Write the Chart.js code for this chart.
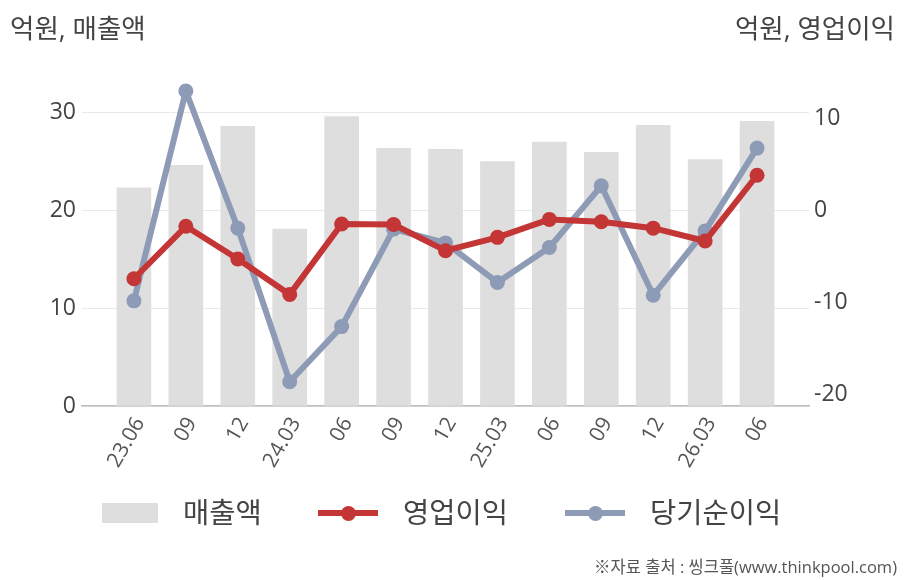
<!DOCTYPE html>
<html>
<head>
<meta charset="utf-8">
<script src="https://cdn.jsdelivr.net/npm/chart.js@4/dist/chart.umd.min.js"></script>
<style>
    body { margin: 0; background: #fff; }
    #wrap { position: relative; width: 908px; height: 580px; font-family: 'Open Sans', 'Noto Sans CJK KR', sans-serif; color: #444; }
    #chart { position: absolute; left: 0; top: 0; }
    .txt { position: absolute; white-space: nowrap; }
    .unit { font-size: 26.5px; top: 7px; }
    .leg { font-size: 28.5px; top: 490px; color: #444; }
    .box { position: absolute; width: 56px; height: 20px; top: 503px; background: #dedede; }
    .ln { position: absolute; width: 60px; height: 6px; top: 510px; }
    .dot { position: absolute; width: 15px; height: 15px; border-radius: 50%; top: -4.5px; left: 22.5px; }
    #src { font-size: 16.5px; right: 11px; top: 554px; color: #555; }
</style>
</head>
<body>
<div id="wrap">
    <canvas id="chart" width="908" height="580"></canvas>
    <div class="txt unit" style="left:10px;">억원, 매출액</div>
    <div class="txt unit" style="right:13px;">억원, 영업이익</div>

    <div class="box" style="left:102px;"></div>
    <div class="txt leg" style="left:183px;">매출액</div>
    <div class="ln" style="left:318px; background:#c43535;"><div class="dot" style="background:#c43535;"></div></div>
    <div class="txt leg" style="left:403px;">영업이익</div>
    <div class="ln" style="left:565px; background:#8e9bb6;"><div class="dot" style="background:#8e9bb6;"></div></div>
    <div class="txt leg" style="left:650px;">당기순이익</div>

    <div class="txt" id="src">※자료 출처 : 씽크풀(www.thinkpool.com)</div>
</div>
<script>
"use strict";

// quarters (yy.mm, year shown only on march / first item)
const periods = ["23.06", "09", "12", "24.03", "06", "09", "12", "25.03", "06", "09", "12", "26.03", "06"];
// 억원
const sales = [22.3, 24.6, 28.6, 18.1, 29.6, 26.35, 26.25, 25.0, 27.0, 25.95, 28.7, 25.2, 29.1];
const operatingProfit = [-7.4, -1.7, -5.25, -9.1, -1.45, -1.5, -4.35, -2.9, -0.95, -1.2, -1.9, -3.3, 3.85];
const netProfit = [-9.8, 13.0, -1.9, -18.6, -12.6, -2.0, -3.5, -7.8, -4.0, 2.7, -9.2, -2.2, 6.8];
const leftTicks = [0, 10, 20, 30];
const rightTicks = [-20, -10, 0, 10];

const xy = (arr) => arr.map((v, i) => ({x: i, y: v}));
const tickFont = {family: "'Open Sans', 'Noto Sans CJK KR', sans-serif", size: 23};

new Chart(document.getElementById("chart"), {
    type: "bar",
    data: {
        datasets: [
            {
                type: "line", label: "영업이익", data: xy(operatingProfit), yAxisID: "y1", order: 0,
                borderColor: "#c43535", backgroundColor: "#c43535", borderWidth: 6, borderJoinStyle: "round",
                pointRadius: 7.5, pointHoverRadius: 7.5, pointBorderWidth: 0, tension: 0
            },
            {
                type: "line", label: "당기순이익", data: xy(netProfit), yAxisID: "y1", order: 1,
                borderColor: "#8e9bb6", backgroundColor: "#8e9bb6", borderWidth: 6, borderJoinStyle: "round",
                pointRadius: 7.5, pointHoverRadius: 7.5, pointBorderWidth: 0, tension: 0
            },
            {
                label: "매출액", data: xy(sales), yAxisID: "y", order: 2,
                backgroundColor: "#dedede", barThickness: 34
            }
        ]
    },
    options: {
        responsive: false,
        animation: false,
        layout: {padding: {top: 70, left: 0, right: 0, bottom: 0}},
        plugins: {legend: {display: false}, tooltip: {enabled: false}},
        scales: {
            x: {
                type: "linear", min: -1, max: 13, offset: false,
                afterBuildTicks: (s) => { s.ticks = periods.map((p, i) => ({value: i})); },
                afterFit: (s) => { s.height = 174; },
                grid: {display: false, drawTicks: false},
                border: {color: "#bdbdbd", width: 1.5},
                ticks: {
                    autoSkip: false, minRotation: 60, maxRotation: 60, padding: 7, labelOffset: 6,
                    color: "#555", font: {family: tickFont.family, size: 21},
                    callback: (v) => periods[v]
                }
            },
            y: {
                position: "left", min: 0, max: 34.36,
                afterBuildTicks: (s) => { s.ticks = leftTicks.map((v) => ({value: v})); },
                afterFit: (s) => { s.width = 82; },
                grid: {color: "#e9e9e9", lineWidth: 1, drawTicks: false},
                border: {display: false},
                ticks: {color: "#444", font: tickFont, padding: 6}
            },
            y1: {
                position: "right", min: -21.23, max: 15.29,
                afterBuildTicks: (s) => { s.ticks = rightTicks.map((v) => ({value: v})); },
                afterFit: (s) => { s.width = 99; },
                grid: {drawOnChartArea: false, drawTicks: false},
                border: {display: false},
                ticks: {color: "#444", font: tickFont, padding: 5}
            }
        }
    }
});
</script>
</body>
</html>
